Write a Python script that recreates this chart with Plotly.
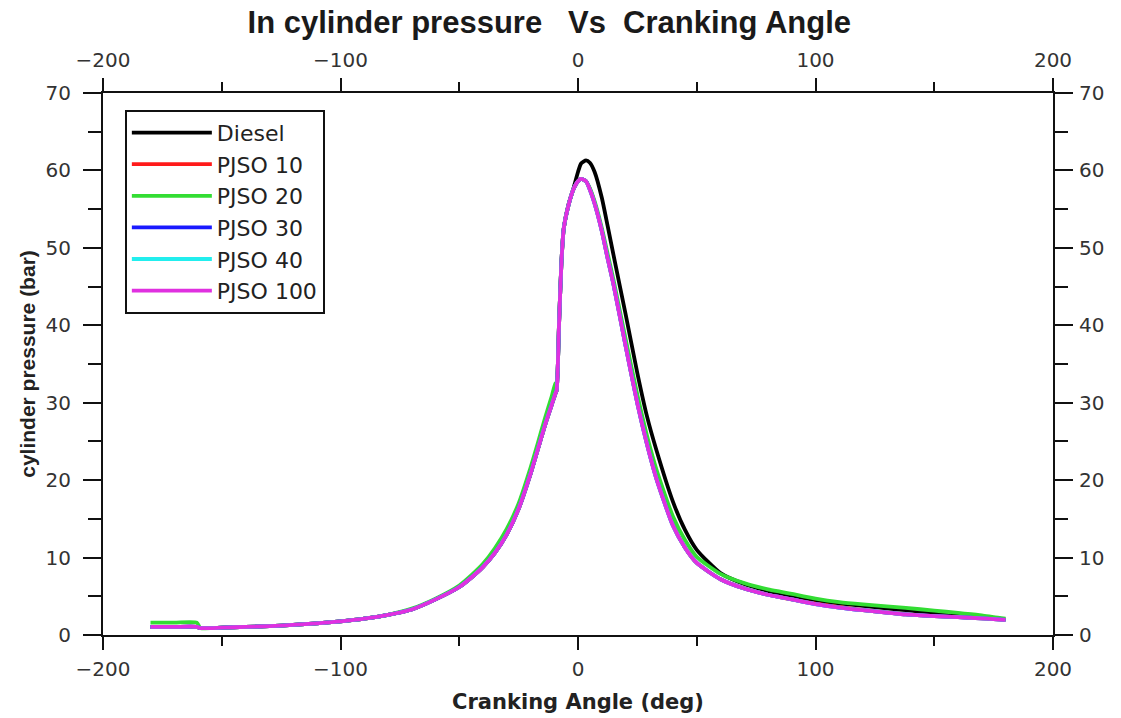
import plotly.graph_objects as go

# Crank angle (deg)
angle = [-180, -170, -160.5, -159, -150, -140, -130, -120, -110, -100, -90, -80, -70, -60,
         -50, -45, -40, -35, -30, -25, -20, -17, -14, -11, -9.5, -9, -8, -7, -6, -4, -2, 0,
         1.3, 3.4, 5, 7, 10, 12.5, 15, 20, 25, 29, 33, 40, 45, 50, 60, 70, 80, 85, 90, 100,
         110, 120, 130, 138, 150, 160, 170, 175, 180]

diesel = [1.05, 1.05, 1.05, 0.9, 0.95, 1.05, 1.15, 1.3, 1.5, 1.75, 2.1, 2.6, 3.3, 4.6,
          6.2, 7.4, 8.8, 10.6, 13.0, 16.3, 20.8, 23.9, 27.0, 29.8, 31.2, 31.6, 40.0, 48.0, 52.5, 55.6, 57.6, 59.8,
          60.9, 61.3, 61.0, 59.8, 56.5, 52.8, 49.0, 41.5, 33.8, 28.3, 23.9, 17.2, 13.6, 11.0, 8.0, 6.6, 5.7, 5.3, 5.0, 4.5,
          4.1, 3.75, 3.45, 3.2, 2.85, 2.6, 2.35, 2.2, 2.0]

pjso10 = [1.05, 1.05, 1.05, 0.9, 0.95, 1.05, 1.15, 1.3, 1.5, 1.75, 2.1, 2.6, 3.3, 4.6,
          6.2, 7.4, 8.8, 10.6, 13.0, 16.3, 20.8, 23.9, 27.0, 29.8, 31.2, 31.6, 40.0, 48.0, 52.5, 55.5, 57.5, 58.6,
          58.9, 58.6, 57.6, 55.8, 52.3, 48.7, 45.3, 37.5, 30.0, 24.8, 20.3, 14.2, 11.3, 9.3, 7.2, 6.0, 5.2, 4.9, 4.6, 4.05,
          3.6, 3.2, 2.9, 2.65, 2.45, 2.3, 2.15, 2.05, 1.95]

pjso20 = [1.6, 1.6, 1.6, 0.9, 0.95, 1.05, 1.15, 1.3, 1.5, 1.75, 2.1, 2.6, 3.4, 4.7,
          6.4, 7.7, 9.2, 11.2, 13.7, 17.0, 21.6, 24.7, 27.9, 30.9, 32.5, 32.6, 40.2, 48.0, 52.5, 55.5, 57.5, 58.6,
          58.9, 58.6, 57.7, 56.0, 52.6, 49.2, 45.8, 38.3, 31.0, 25.8, 21.4, 15.3, 12.3, 10.1, 7.9, 6.7, 5.9, 5.6, 5.3, 4.7,
          4.25, 3.95, 3.7, 3.5, 3.15, 2.85, 2.55, 2.3, 2.1]

pjso30 = [1.05, 1.05, 1.05, 0.9, 0.95, 1.05, 1.15, 1.3, 1.5, 1.75, 2.1, 2.6, 3.3, 4.6,
          6.2, 7.4, 8.8, 10.6, 13.0, 16.3, 20.8, 23.9, 27.0, 29.8, 31.2, 31.6, 40.0, 48.0, 52.5, 55.5, 57.5, 58.6,
          58.9, 58.6, 57.5, 55.7, 52.2, 48.6, 45.2, 37.4, 29.9, 24.7, 20.2, 14.1, 11.3, 9.3, 7.2, 6.0, 5.2, 4.9, 4.6, 4.0,
          3.55, 3.2, 2.9, 2.65, 2.45, 2.3, 2.15, 2.05, 1.95]

pjso40 = [1.05, 1.05, 1.05, 0.9, 0.95, 1.05, 1.15, 1.3, 1.5, 1.75, 2.1, 2.6, 3.3, 4.6,
          6.2, 7.4, 8.8, 10.6, 13.0, 16.3, 20.8, 23.9, 27.0, 29.8, 31.2, 31.6, 40.0, 48.0, 52.5, 55.5, 57.5, 58.6,
          58.9, 58.6, 57.5, 55.7, 52.2, 48.6, 45.2, 37.4, 29.9, 24.7, 20.2, 14.1, 11.3, 9.3, 7.2, 6.0, 5.2, 4.9, 4.6, 4.0,
          3.55, 3.2, 2.9, 2.65, 2.45, 2.3, 2.15, 2.05, 1.95]

pjso100 = [1.05, 1.05, 1.05, 0.9, 0.95, 1.05, 1.15, 1.3, 1.5, 1.75, 2.1, 2.6, 3.3, 4.6,
           6.2, 7.4, 8.8, 10.6, 13.0, 16.3, 20.8, 23.9, 27.0, 29.8, 31.2, 31.6, 40.0, 48.0, 52.5, 55.5, 57.5, 58.6,
           58.9, 58.6, 57.5, 55.7, 52.2, 48.6, 45.2, 37.4, 29.9, 24.7, 20.2, 14.1, 11.3, 9.3, 7.2, 6.0, 5.2, 4.9, 4.6, 4.0,
           3.55, 3.2, 2.9, 2.65, 2.45, 2.3, 2.15, 2.05, 1.95]

series_names = ["Diesel", "PJSO 10", "PJSO 20", "PJSO 30", "PJSO 40", "PJSO 100"]
series_values = [diesel, pjso10, pjso20, pjso30, pjso40, pjso100]
series_colors = ["#000000", "#ff1a1a", "#33dd33", "#1a1aff", "#22eeee", "#e030e0"]

x_ticks = [-200, -100, 0, 100, 200]
y_ticks = [0, 10, 20, 30, 40, 50, 60, 70]

fig = go.Figure()
for name, vals, col in zip(series_names, series_values, series_colors):
    fig.add_trace(go.Scatter(x=angle, y=vals, name=name, mode="lines",
                             line=dict(color=col, width=3.8, shape="spline", smoothing=0.6),
                             legendgroup=name))

# invisible trace for the mirrored (top/right) axes
fig.add_trace(go.Scatter(x=[None], y=[None], xaxis="x2", yaxis="y2",
                         showlegend=False, hoverinfo="skip"))

tick_font = dict(family="DejaVu Sans, Verdana, sans-serif", size=20, color="#333333")
xcommon = dict(range=[-200, 200], tickmode="array", tickvals=x_ticks, automargin=False,
               showline=True, linecolor="#111111", linewidth=2, showgrid=False, zeroline=False,
               ticks="outside", ticklen=13, tickwidth=2, tickcolor="#111111", tickfont=tick_font,
               minor=dict(dtick=50, tick0=0, ticks="outside", ticklen=9, tickwidth=2, tickcolor="#111111"))
ycommon = dict(range=[0, 70], tickmode="array", tickvals=y_ticks, automargin=False,
               showline=True, linecolor="#111111", linewidth=2, showgrid=False, zeroline=False,
               ticks="outside", ticklen=18, tickwidth=2, tickcolor="#111111", tickfont=tick_font,
               minor=dict(dtick=5, tick0=0, ticks="outside", ticklen=13, tickwidth=2, tickcolor="#111111"))

fig.update_layout(
    width=1121, height=718,
    paper_bgcolor="white", plot_bgcolor="white",
    margin=dict(l=103, r=68, t=93, b=83),
    title=dict(text="In cylinder pressure\u00a0\u00a0\u00a0Vs\u00a0\u00a0Cranking Angle",
               x=0.49, xref="container", xanchor="center",
               y=1 - 22 / 718, yref="container", yanchor="middle",
               font=dict(family="Liberation Sans, Arial, sans-serif",
                         size=31, color="#1a1a1a", weight="bold")),
    xaxis=dict(**xcommon, side="bottom", anchor="y", ticklabelstandoff=2,
               title=dict(text="<b>Cranking Angle (deg)</b>", standoff=14,
                          font=dict(family="DejaVu Sans, Verdana, sans-serif", size=21, color="#222222"))),
    xaxis2=dict(**xcommon, side="top", overlaying="x", anchor="y", ticklabelstandoff=3),
    yaxis=dict(**ycommon, side="left", anchor="x", ticklabelstandoff=8,
               title=dict(text="<b>cylinder pressure (bar)</b>", standoff=4,
                          font=dict(family="Liberation Sans, Arial, sans-serif",
                                    size=21, color="#222222"))),
    yaxis2=dict(**ycommon, side="right", overlaying="y", anchor="x", ticklabelstandoff=2),
    legend=dict(x=0.023, y=0.969, xanchor="left", yanchor="top",
                bgcolor="white", bordercolor="#111111", borderwidth=2,
                font=dict(family="DejaVu Sans, Verdana, sans-serif", size=22, color="#222222"),
                tracegroupgap=0, itemwidth=80),
    showlegend=True,
)

fig.write_html("out.html")
